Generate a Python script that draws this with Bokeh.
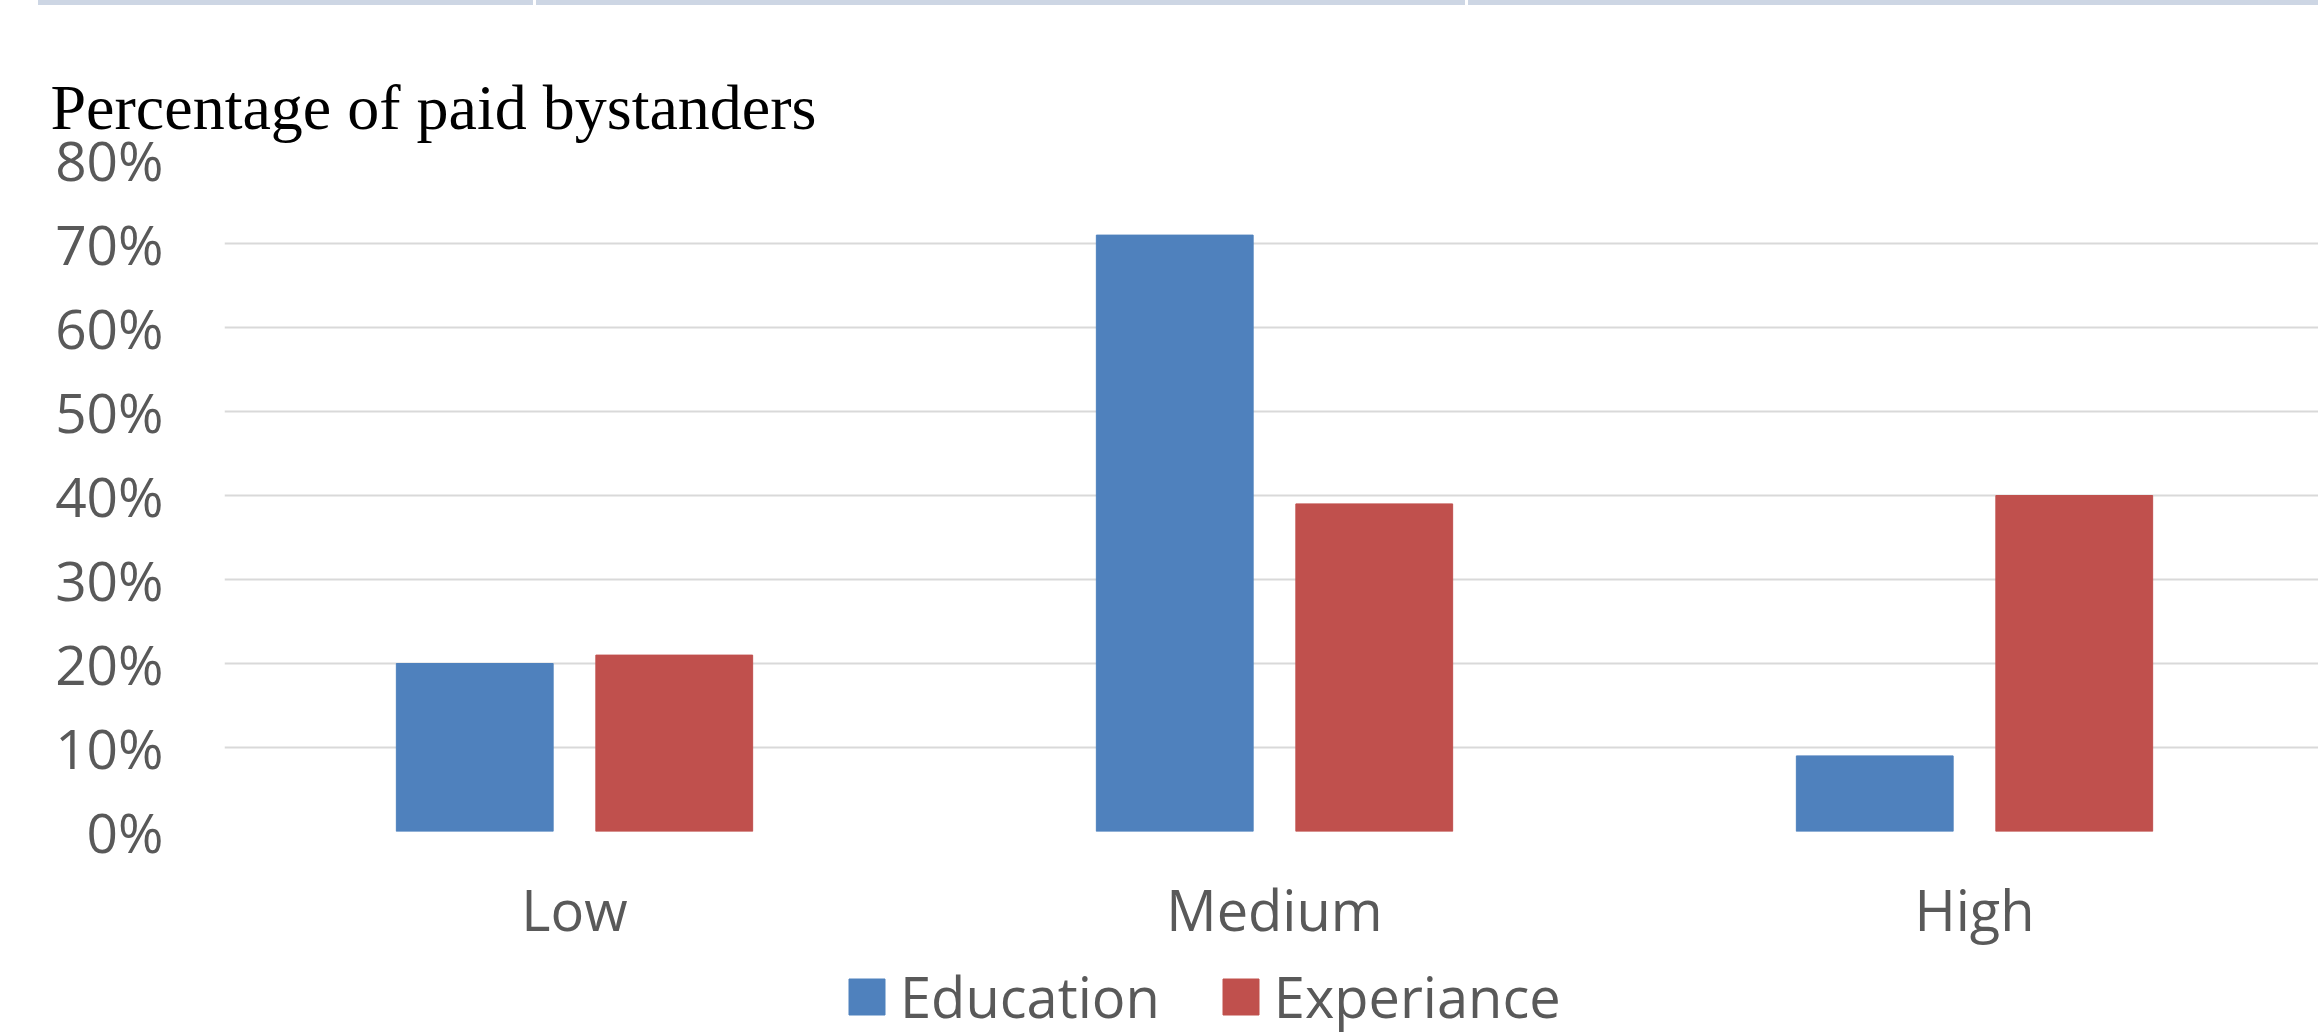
from bokeh.plotting import figure
from bokeh.models import (Range1d, FixedTicker, NumeralTickFormatter, Legend, LegendItem,
                          ColumnDataSource, Div, Title)
from bokeh.layouts import column
from bokeh.transform import dodge
from bokeh.embed import file_html
from bokeh.resources import INLINE

# ---- data ----
categories = ["Low", "Medium", "High"]
education = [0.20, 0.71, 0.09]
experiance = [0.21, 0.39, 0.40]
series_names = ["Education", "Experiance"]
y_ticks = [0.0, 0.1, 0.2, 0.3, 0.4, 0.5, 0.6, 0.7, 0.8]

BLUE = "#4F81BD"
RED = "#C0504D"
TXT = "#595959"

xpos = [i + 0.5 for i in range(len(categories))]
src = ColumnDataSource(dict(x=xpos, edu=education, exp=experiance))

# ---- main chart ----
p = figure(width=2318, height=945, output_backend="svg", toolbar_location=None,
           x_range=Range1d(0, 2.99143), y_range=Range1d(0, 0.8),
           min_border_left=224, min_border_right=0, min_border_top=154, min_border_bottom=119)
p.outline_line_color = None
p.background_fill_color = "white"
p.border_fill_color = "white"

p.vbar(x=dodge("x", -0.1425, range=p.x_range), top="edu", width=0.224, bottom=0,
       source=src, fill_color=BLUE, line_color=BLUE)
p.vbar(x=dodge("x", 0.1425, range=p.x_range), top="exp", width=0.224, bottom=0,
       source=src, fill_color=RED, line_color=RED)

p.xaxis.ticker = FixedTicker(ticks=xpos)
p.xaxis.major_label_overrides = {x: c for x, c in zip(xpos, categories)}
p.yaxis.ticker = FixedTicker(ticks=y_ticks)
p.yaxis.formatter = NumeralTickFormatter(format="0%")
for ax in (p.xaxis, p.yaxis):
    ax.axis_line_color = None
    ax.major_tick_line_color = None
    ax.minor_tick_line_color = None
    ax.major_tick_out = 0
    ax.major_tick_in = 0
    ax.major_label_text_font = "Open Sans"
    ax.major_label_text_color = TXT
p.yaxis.major_label_text_font_size = "55px"
p.xaxis.major_label_text_font_size = "56px"
p.yaxis.major_label_standoff = 61
p.xaxis.major_label_standoff = 39

p.xgrid.grid_line_color = None
p.ygrid.grid_line_color = "#D9D9D9"
p.ygrid.grid_line_width = 2

p.title = Title(text="Percentage of paid bystanders", align="left", offset=-174,
                text_font="Liberation Serif", text_font_size="64px",
                text_font_style="normal", text_color="black", standoff=33)

# ---- legend strip (its own small figure so the legend is not clipped by the frame) ----
lg = figure(width=2318, height=84, output_backend="svg", toolbar_location=None,
            x_range=Range1d(0, 1), y_range=Range1d(0, 1),
            x_axis_type=None, y_axis_type=None, min_border=0)
lg.outline_line_color = None
lg.background_fill_color = "white"
lg.border_fill_color = "white"
# legend handles only: their single bar lies outside the visible range
lr1 = lg.vbar(x=[5], top=[0.5], width=0.1, fill_color=BLUE, line_color=BLUE)
lr2 = lg.vbar(x=[5], top=[0.5], width=0.1, fill_color=RED, line_color=RED)

legend = Legend(items=[LegendItem(label=series_names[0], renderers=[lr1]),
                       LegendItem(label=series_names[1], renderers=[lr2])],
                orientation="horizontal", location=(620, 0),
                glyph_width=45, glyph_height=45, label_standoff=11, spacing=58,
                label_text_font="Open Sans", label_text_font_size="56px",
                label_text_color=TXT, border_line_color=None,
                background_fill_alpha=0, padding=0, margin=0)
lg.add_layout(legend)

band_bg = ("linear-gradient(to right, #FFFFFF 0px, #FFFFFF 38px, #CDD6E4 38px, #CDD6E4 533px, "
           "#FFFFFF 533px, #FFFFFF 536px, #CDD6E4 536px, #CDD6E4 1465px, #FFFFFF 1465px, "
           "#FFFFFF 1468px, #CDD6E4 1468px, #CDD6E4 2318px)")
band = Div(text="", width=2318, height=5, margin=0,
           styles={"background": band_bg, "height": "4px", "width": "2318px"})

layout = column(band, p, lg, spacing=0, margin=0)

open("out.html", "w").write(file_html(layout, INLINE))
